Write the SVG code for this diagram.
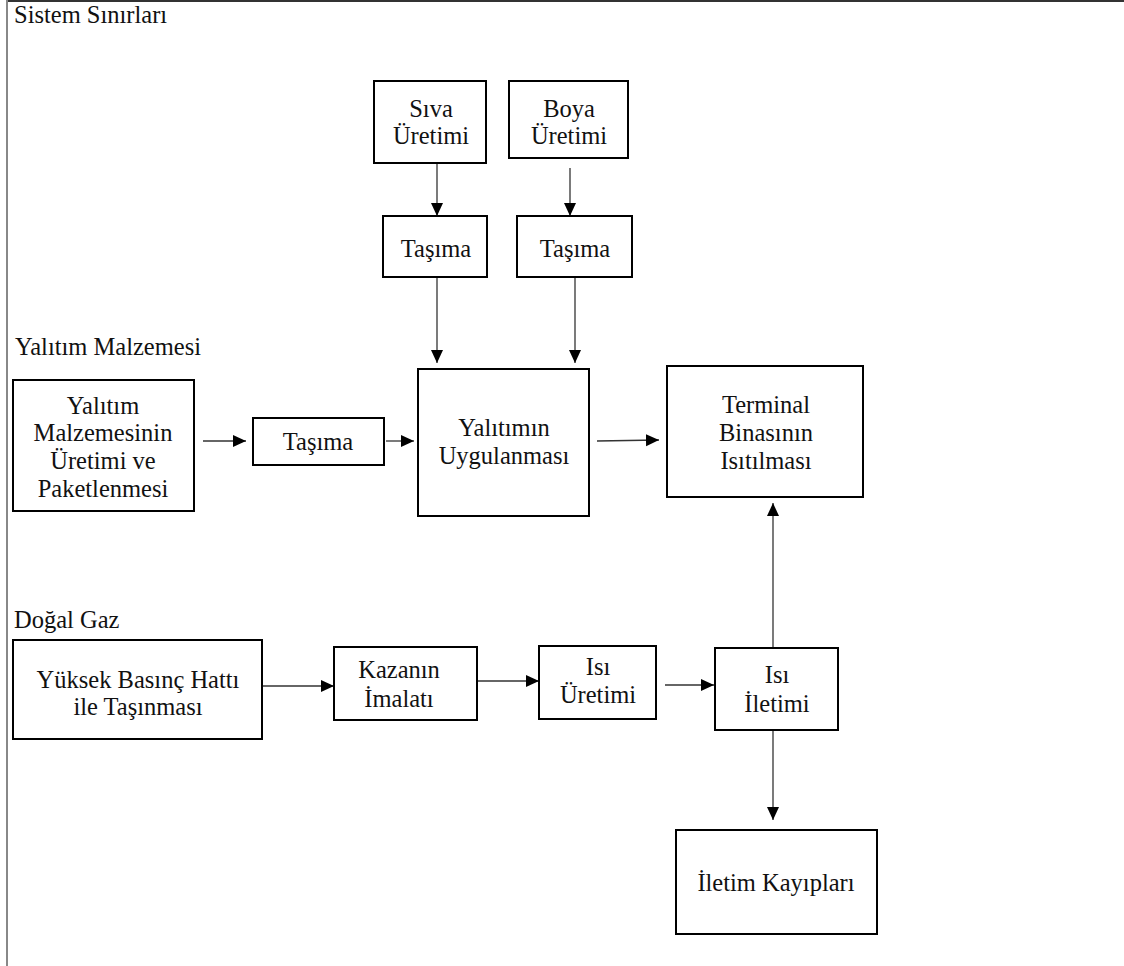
<svg xmlns="http://www.w3.org/2000/svg" width="1124" height="966" viewBox="0 0 1124 966">
  <style>
    .box { fill: #ffffff; stroke: #000000; stroke-width: 2; }
    .lbl { font-family: "Liberation Serif", "Times New Roman", serif; font-size: 24.5px; fill: #111111; }
    .c { text-anchor: middle; }
    .edge { stroke: #333333; stroke-width: 1.3; fill: none; marker-end: url(#arrow); }
  </style>
  <defs>
    <marker id="arrow" markerUnits="userSpaceOnUse" markerWidth="14" markerHeight="14" viewBox="0 0 14 14" refX="13" refY="7" orient="auto">
      <path d="M0,1 L13,7 L0,13 Z" fill="#000000"/>
    </marker>
  </defs>
  <rect x="0" y="0" width="1124" height="966" fill="#ffffff"/>

  <!-- system boundary (top and left edges) -->
  <g id="boundary">
    <line x1="6" y1="1" x2="1124" y2="1" stroke="#333333" stroke-width="2"/>
    <line x1="7" y1="0" x2="7" y2="966" stroke="#888888" stroke-width="2"/>
  </g>

  <!-- section labels -->
  <g id="labels">
    <text class="lbl" x="14" y="23">Sistem Sınırları</text>
    <text class="lbl" x="15" y="355">Yalıtım Malzemesi</text>
    <text class="lbl" x="14" y="628">Doğal Gaz</text>
  </g>

  <!-- connectors -->
  <g id="connectors">
    <line class="edge" x1="437" y1="163" x2="437" y2="216"/>
    <line class="edge" x1="570" y1="168" x2="570" y2="216"/>
    <line class="edge" x1="437" y1="277" x2="437" y2="363"/>
    <line class="edge" x1="575" y1="277" x2="575" y2="363"/>
    <line class="edge" x1="203" y1="441" x2="246" y2="441"/>
    <line class="edge" x1="386" y1="441" x2="414" y2="441"/>
    <line class="edge" x1="597" y1="441" x2="659" y2="440"/>
    <line class="edge" x1="262" y1="686" x2="334" y2="686"/>
    <line class="edge" x1="477" y1="681" x2="539" y2="681"/>
    <line class="edge" x1="665" y1="685" x2="714" y2="685"/>
    <line class="edge" x1="773" y1="648" x2="773" y2="503"/>
    <line class="edge" x1="773" y1="730" x2="773" y2="820"/>
  </g>

  <g id="siva-uretimi">
    <rect class="box" x="374" y="81" width="112" height="82"/>
    <text class="lbl c" x="431" y="117">Sıva</text>
    <text class="lbl c" x="431" y="144">Üretimi</text>
  </g>
  <g id="boya-uretimi">
    <rect class="box" x="509" y="81" width="119" height="77"/>
    <text class="lbl c" x="569" y="117">Boya</text>
    <text class="lbl c" x="569" y="144">Üretimi</text>
  </g>
  <g id="tasima-siva">
    <rect class="box" x="383" y="216" width="104" height="61"/>
    <text class="lbl c" x="436" y="257">Taşıma</text>
  </g>
  <g id="tasima-boya">
    <rect class="box" x="517" y="216" width="115" height="61"/>
    <text class="lbl c" x="575" y="257">Taşıma</text>
  </g>
  <g id="yalitim-uretimi">
    <rect class="box" x="13" y="380" width="181" height="131"/>
    <text class="lbl c" x="103" y="414">Yalıtım</text>
    <text class="lbl c" x="103" y="441">Malzemesinin</text>
    <text class="lbl c" x="103" y="469">Üretimi ve</text>
    <text class="lbl c" x="103" y="497">Paketlenmesi</text>
  </g>
  <g id="tasima-yalitim">
    <rect class="box" x="253" y="418" width="131" height="47"/>
    <text class="lbl c" x="318" y="450">Taşıma</text>
  </g>
  <g id="yalitimin-uygulanmasi">
    <rect class="box" x="418" y="369" width="171" height="147"/>
    <text class="lbl c" x="504" y="436">Yalıtımın</text>
    <text class="lbl c" x="504" y="464">Uygulanması</text>
  </g>
  <g id="terminal-isitma">
    <rect class="box" x="667" y="366" width="196" height="131"/>
    <text class="lbl c" x="766" y="413">Terminal</text>
    <text class="lbl c" x="766" y="441">Binasının</text>
    <text class="lbl c" x="766" y="469">Isıtılması</text>
  </g>
  <g id="yuksek-basinc">
    <rect class="box" x="13" y="640" width="249" height="99"/>
    <text class="lbl c" x="138" y="688">Yüksek Basınç Hattı</text>
    <text class="lbl c" x="138" y="715">ile Taşınması</text>
  </g>
  <g id="kazan-imalati">
    <rect class="box" x="334" y="647" width="143" height="73"/>
    <text class="lbl c" x="399" y="678">Kazanın</text>
    <text class="lbl c" x="399" y="707">İmalatı</text>
  </g>
  <g id="isi-uretimi">
    <rect class="box" x="539" y="646" width="117" height="73"/>
    <text class="lbl c" x="598" y="675">Isı</text>
    <text class="lbl c" x="598" y="703">Üretimi</text>
  </g>
  <g id="isi-iletimi">
    <rect class="box" x="715" y="648" width="123" height="82"/>
    <text class="lbl c" x="777" y="683">Isı</text>
    <text class="lbl c" x="777" y="712">İletimi</text>
  </g>
  <g id="iletim-kayiplari">
    <rect class="box" x="676" y="830" width="201" height="104"/>
    <text class="lbl c" x="776" y="891">İletim Kayıpları</text>
  </g>
</svg>
